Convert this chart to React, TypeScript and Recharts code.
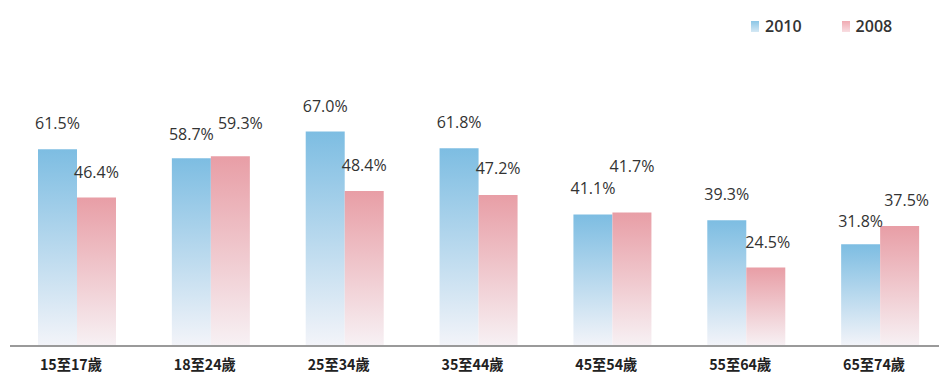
import { Bar, BarChart, LabelList, XAxis, YAxis } from "recharts";

const categories = ["15至17歲", "18至24歲", "25至34歲", "35至44歲", "45至54歲", "55至64歲", "65至74歲"];
const values2010 = [61.5, 58.7, 67.0, 61.8, 41.1, 39.3, 31.8];
const values2008 = [46.4, 59.3, 48.4, 47.2, 41.7, 24.5, 37.5];
const seriesNames = ["2010", "2008"];

const data = categories.map((c, i) => ({ name: c, y2010: values2010[i], y2008: values2008[i] }));

// label nudges (px) so neighbouring labels don't collide, like in the original
const lift2010 = [0, -2, 0, 0, 0, 0, -3];
const lift2008 = [0, 7, 0, 1, 21, 0, 0];
const shift2008 = [0, 10, 0, 0, 0, 2, 7];

const CategoryTick = ({ x, y, payload }: any) => (
  <text
    x={x - 6}
    y={y + 24}
    textAnchor="middle"
    fontFamily="'Noto Sans CJK TC', sans-serif"
    fontWeight={700}
    fontSize={15}
    fill="#222"
    textLength={62}
    lengthAdjust="spacingAndGlyphs"
  >
    {payload.value}
  </text>
);

const makeLabel = (lift: number[], shift: number[]) => (props: any) => {
  const { x, y, width, value, index } = props;
  return (
    <text
      x={x + width / 2 + (shift[index] || 0)}
      y={y - 20 - (lift[index] || 0)}
      textAnchor="middle"
      fill="#333"
      fontSize={16}
      fontFamily="'Open Sans', sans-serif"
    >
      {`${Number(value).toFixed(1)}%`}
    </text>
  );
};

export default function App() {
  return (
    <div style={{ position: "relative", width: 939, height: 385, overflow: "hidden", background: "#fff" }}>
      <style>{"body{margin:0;overflow:hidden}"}</style>
      <BarChart
        width={947}
        height={385}
        data={data}
        margin={{ top: 26, right: 0, left: 10, bottom: 0 }}
        barCategoryGap={28}
        barGap={0}
      >
        <defs>
          <linearGradient id="gBlue" x1="0" y1="0" x2="0" y2="1">
            <stop offset="0%" stopColor="#7dbde2" />
            <stop offset="100%" stopColor="#f3f4f9" />
          </linearGradient>
          <linearGradient id="gPink" x1="0" y1="0" x2="0" y2="1">
            <stop offset="0%" stopColor="#e89ea6" />
            <stop offset="100%" stopColor="#f7f1f4" />
          </linearGradient>
        </defs>
        <XAxis
          dataKey="name"
          axisLine={{ stroke: "#9a9a9a", strokeWidth: 2 }}
          tickLine={false}
          tickSize={0}
          tickMargin={0}
          height={39}
          tick={<CategoryTick />}
          interval={0}
        />
        <YAxis hide domain={[0, 100]} />
        <Bar dataKey="y2010" fill="url(#gBlue)" isAnimationActive={false}>
          <LabelList dataKey="y2010" content={makeLabel(lift2010, [])} />
        </Bar>
        <Bar dataKey="y2008" fill="url(#gPink)" isAnimationActive={false}>
          <LabelList dataKey="y2008" content={makeLabel(lift2008, shift2008)} />
        </Bar>
      </BarChart>
      <div
        style={{
          position: "absolute",
          top: 15,
          left: 751,
          display: "flex",
          gap: 40,
          fontFamily: "'Open Sans', sans-serif",
          fontSize: 16,
          fontWeight: 600,
          color: "#333",
        }}
      >
        {seriesNames.map((n, i) => (
          <div key={n} style={{ display: "flex", alignItems: "center", gap: 6 }}>
            <span
              style={{
                display: "inline-block",
                width: 8,
                height: 11,
                background: i === 0 ? "linear-gradient(#8cc6e6,#d4e8f4)" : "linear-gradient(#f0aab2,#f8dde1)",
              }}
            />
            <span>{n}</span>
          </div>
        ))}
      </div>
    </div>
  );
}
